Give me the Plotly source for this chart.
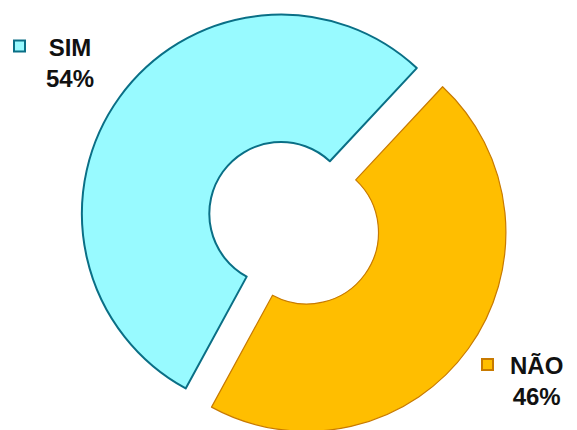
import plotly.graph_objects as go

labels = ["SIM", "NÃO"]
values = [54, 46]
fill_colors = ["#98FAFF", "#FFBE00"]
line_colors = ["#0A6F86", "#C87A00"]
line_widths = [2, 1.2]
pulls = [0.08, 0.08]

W, H = 577, 430
OFF = 8  # page body margin offset in the browser

fig = go.Figure(
    go.Pie(
        labels=labels,
        values=values,
        hole=0.36,
        sort=False,
        direction="clockwise",
        rotation=208.6,
        pull=pulls,
        marker=dict(colors=fill_colors, line=dict(color=line_colors, width=line_widths)),
        textinfo="none",
        showlegend=False,
        domain=dict(x=[0.0, 0.991], y=[0.0, 1.0]),
    )
)

total = sum(values)
# label block positions (screen pixels) and legend-key squares
label_pos = [(70, 63), (536, 381)]
key_pos = [(19.5, 46), (487.5, 364.5)]
key_size = 11

for lab, val, (lx, ly), (kx, ky), fc, lc in zip(labels, values, label_pos, key_pos, fill_colors, line_colors):
    pct = round(val / total * 100)
    lx, ly, kx, ky = lx - OFF, ly - OFF, kx - OFF, ky - OFF
    fig.add_annotation(
        text=f"<b>{lab}</b><br><b>{pct}%</b>",
        x=lx / W, y=1 - ly / H, xref="paper", yref="paper",
        xanchor="center", yanchor="middle", showarrow=False, align="center",
        font=dict(family="Liberation Sans, Arial, sans-serif", size=24, color="#111111"),
    )
    fig.add_shape(
        type="rect", xref="paper", yref="paper",
        x0=(kx - key_size / 2) / W, x1=(kx + key_size / 2) / W,
        y0=1 - (ky + key_size / 2) / H, y1=1 - (ky - key_size / 2) / H,
        fillcolor=fc, line=dict(color=lc, width=2),
    )

fig.update_layout(
    width=W, height=H,
    margin=dict(l=0, r=0, t=0, b=0),
    paper_bgcolor="white", plot_bgcolor="white",
)

fig.write_html("out.html")
